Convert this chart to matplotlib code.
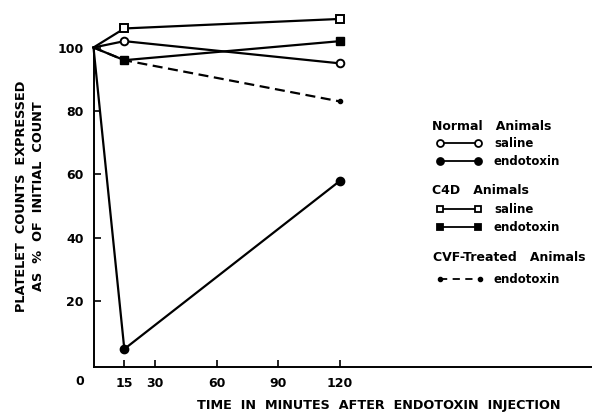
import matplotlib.pyplot as plt
from matplotlib.lines import Line2D

# -------------------------------
# DATA
# -------------------------------
times = [0, 15, 120]
normal_saline = [100, 102, 95]
normal_endotoxin = [100, 5, 58]
c4d_saline = [100, 106, 109]
c4d_endotoxin = [100, 96, 102]
cvf_endotoxin = [100, 96, 83]

x_ticks = [15, 30, 60, 90, 120]
y_ticks = [20, 40, 60, 80, 100]

W, H = 592, 415
plt.rcParams['font.family'] = ['DejaVu Sans']
plt.rcParams['font.weight'] = 'bold'

fig = plt.figure(figsize=(W / 100, H / 100), dpi=100)
ax = fig.add_axes([93.5 / W, 1 - 366.5 / H, 498.5 / W, 319 / H])

lw = 1.6
ax.plot(times, c4d_saline, color='black', lw=lw, marker='s', ms=5.5,
        mfc='white', mec='black', mew=1.4, clip_on=False, zorder=3, markevery=[1, 2])
ax.plot(times, normal_saline, color='black', lw=lw, marker='o', ms=5.5,
        mfc='white', mec='black', mew=1.4, clip_on=False, zorder=3, markevery=[1, 2])
ax.plot(times, cvf_endotoxin, color='black', lw=lw, ls=(0, (4.5, 2.5)), marker='o', ms=3,
        clip_on=False, zorder=2, markevery=[2])
ax.plot(times, c4d_endotoxin, color='black', lw=lw, marker='s', ms=6,
        clip_on=False, zorder=3, markevery=[1, 2])
ax.plot(times, normal_endotoxin, color='black', lw=lw, marker='o', ms=6,
        clip_on=False, zorder=3, markevery=[1, 2])

ax.set_xlim(0, 242.7)
ax.set_ylim(-0.5, 100)
ax.set_xticks(x_ticks)
ax.set_yticks(y_ticks)
ax.tick_params(direction='in', length=5, width=1.2, labelsize=9)
ax.tick_params(axis='x', pad=7.5)
ax.tick_params(axis='y', pad=7)
for s in ['top', 'right']:
    ax.spines[s].set_visible(False)
for s in ['left', 'bottom']:
    ax.spines[s].set_linewidth(1.4)

ax.annotate('0', xy=(0, 0), xycoords='axes fraction', xytext=(-10, -11),
            textcoords='offset points', ha='center', va='center', fontsize=9)

fig.text(379 / W, 1 - 405 / H, 'TIME  IN  MINUTES  AFTER  ENDOTOXIN  INJECTION',
         ha='center', va='center', fontsize=9.2)
fig.text(30 / W, 1 - 196 / H, 'PLATELET  COUNTS  EXPRESSED\nAS  %  OF  INITIAL  COUNT',
         ha='center', va='center', rotation=90, fontsize=9.3, linespacing=1.35)

# -------------------------------
# LEGEND (drawn by hand)
# -------------------------------
lg = fig.add_axes([0, 0, 1, 1])
lg.set_xlim(0, W)
lg.set_ylim(H, 0)
lg.axis('off')

def sample(y, marker, mfc, text, ms=5):
    lg.add_line(Line2D([440, 478], [y, y], color='black', lw=1.3))
    lg.plot([440, 478], [y, y], ls='none', marker=marker, ms=ms, mfc=mfc, mec='black', mew=1.3)
    lg.text(494, y, text, va='center', ha='left', fontsize=8.5)

lg.text(432, 126, 'Normal   Animals', va='center', ha='left', fontsize=9)
sample(143, 'o', 'white', 'saline')
sample(161, 'o', 'black', 'endotoxin')
lg.text(432, 190, 'C4D   Animals', va='center', ha='left', fontsize=9)
sample(209, 's', 'white', 'saline')
sample(227, 's', 'black', 'endotoxin')
lg.text(433, 257, 'CVF-Treated   Animals', va='center', ha='left', fontsize=9)
lg.add_line(Line2D([440, 480], [279, 279], color='black', lw=1.3, ls=(0, (4, 3))))
lg.plot([440, 480], [279, 279], ls='none', marker='o', ms=3, color='black')
lg.text(494, 279, 'endotoxin', va='center', ha='left', fontsize=8.5)

fig.savefig('out.png', dpi=100)
